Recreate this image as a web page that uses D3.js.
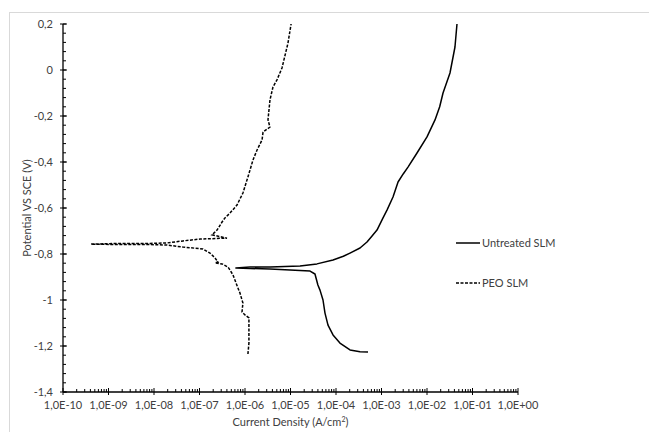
<!DOCTYPE html>
<html><head><meta charset="utf-8">
<script src="https://cdn.jsdelivr.net/npm/d3@7"></script>
<style>
body{margin:0;background:#fff;}
svg{display:block;font-family:Lato,"Open Sans",sans-serif;}
</style></head>
<body>
<svg id="c" width="649" height="432"></svg>
<script>
// Untreated SLM (solid): [current density A/cm2, potential V]
const untreatedI = [5.05e-4,3.37e-4,2.03e-4,1.22e-4,8.6e-5,6.67e-5,5.73e-5,5.18e-5,4.45e-5,4.0e-5,3.45e-5,2.69e-5,9.75e-6,3.54e-6,1.29e-6,6.3e-7,1.29e-6,3.54e-6,1.62e-5,3.82e-5,8.6e-5,1.45e-4,2.03e-4,3.37e-4,4.8e-4,6.2e-4,7.96e-4,1.08e-3,1.32e-3,1.79e-3,2.31e-3,3.0e-3,3.82e-3,6.03e-3,1.0e-2,1.5e-2,1.9e-2,2.25e-2,3.2e-2,4.12e-2,4.56e-2];
const untreatedE = [-1.226,-1.225,-1.217,-1.187,-1.152,-1.109,-1.057,-1.0,-0.957,-0.935,-0.887,-0.874,-0.870,-0.865,-0.863,-0.861,-0.857,-0.857,-0.852,-0.843,-0.826,-0.810,-0.796,-0.774,-0.748,-0.722,-0.696,-0.643,-0.609,-0.552,-0.487,-0.452,-0.422,-0.361,-0.291,-0.217,-0.160,-0.1,-0.013,0.1,0.2];
// PEO SLM (dashed)
const peoI = [1.16e-6,1.22e-6,1.22e-6,1.22e-6,1.0e-6,8.6e-7,9.0e-7,7.76e-7,7.0e-7,6.0e-7,5.44e-7,4.68e-7,4.23e-7,3.13e-7,2.19e-7,2.55e-7,2.19e-7,1.70e-7,1.19e-7,4.34e-8,1.93e-8,8.2e-9,1.79e-9,4.12e-10,1.79e-9,8.2e-9,1.93e-8,4.34e-8,1.03e-7,4.02e-7,1.88e-7,2.43e-7,3.13e-7,3.63e-7,4.68e-7,6.67e-7,9.0e-7,1.16e-6,1.5e-6,1.84e-6,2.37e-6,2.49e-6,3.54e-6,3.2e-6,3.54e-6,4.12e-6,5.04e-6,6.5e-6,8.8e-6,1.03e-5];
const peoE = [-1.235,-1.187,-1.117,-1.078,-1.065,-1.052,-1.013,-0.970,-0.948,-0.913,-0.891,-0.870,-0.857,-0.843,-0.839,-0.835,-0.817,-0.796,-0.778,-0.770,-0.761,-0.759,-0.759,-0.757,-0.754,-0.754,-0.752,-0.743,-0.735,-0.731,-0.717,-0.696,-0.661,-0.643,-0.622,-0.587,-0.535,-0.465,-0.391,-0.348,-0.304,-0.270,-0.248,-0.217,-0.130,-0.074,-0.043,0.009,0.117,0.2];
const xTickLabels = ["1,0E-10","1,0E-09","1,0E-08","1,0E-07","1,0E-06","1,0E-05","1,0E-04","1,0E-03","1,0E-02","1,0E-01","1,0E+00"];
const yTickValues = [0.2,0,-0.2,-0.4,-0.6,-0.8,-1,-1.2,-1.4];
const seriesNames = ["Untreated SLM","PEO SLM"];

const svg = d3.select("#c");
const L=63, R=518, T=24, B=392;
const x = d3.scaleLog().domain([1e-10,1]).range([L,R]);
const y = d3.scaleLinear().domain([-1.4,0.2]).range([B,T]);
const txt = "#404040";

// chart area border
svg.append("rect").attr("x",9.5).attr("y",12.5).attr("width",660).attr("height",440)
  .attr("fill","none").attr("stroke","#d9d9d9").attr("stroke-width",1);

// y axis
const gy = svg.append("g");
gy.append("line").attr("x1",L).attr("x2",L).attr("y1",T).attr("y2",B).attr("stroke","#000").attr("stroke-width",1.3);
const minorY = d3.range(0,41).map(i=>-1.4+i*0.04);
gy.selectAll("line.mn").data(minorY).join("line").attr("class","mn")
  .attr("x1",L).attr("x2",L+3).attr("y1",d=>y(d)).attr("y2",d=>y(d)).attr("stroke","#000").attr("stroke-width",1);
gy.selectAll("line.mj").data(yTickValues).join("line").attr("class","mj")
  .attr("x1",L-3).attr("x2",L+4).attr("y1",d=>y(d)).attr("y2",d=>y(d)).attr("stroke","#000").attr("stroke-width",1);
gy.selectAll("text").data(yTickValues).join("text")
  .attr("x",L-10).attr("y",d=>y(d)).attr("dy","0.35em").attr("text-anchor","end")
  .attr("font-size",11).attr("fill",txt)
  .text(d=>d3.format(".1~f")(d).replace(".",",").replace("−","-"));

// x axis
const gx = svg.append("g");
gx.append("line").attr("x1",L).attr("x2",R).attr("y1",B).attr("y2",B).attr("stroke","#000").attr("stroke-width",1.3);
const minorX = [];
for(let e=-10;e<0;e++){ for(let k=2;k<=9;k++) minorX.push(k*Math.pow(10,e)); }
gx.selectAll("line.mn").data(minorX).join("line").attr("class","mn")
  .attr("x1",d=>x(d)).attr("x2",d=>x(d)).attr("y1",B).attr("y2",B-3).attr("stroke","#000").attr("stroke-width",1);
const majorX = d3.range(-10,1).map(e=>Math.pow(10,e));
gx.selectAll("line.mj").data(majorX).join("line").attr("class","mj")
  .attr("x1",d=>x(d)).attr("x2",d=>x(d)).attr("y1",B+3).attr("y2",B-4).attr("stroke","#000").attr("stroke-width",1);
gx.selectAll("text").data(majorX).join("text")
  .attr("x",d=>x(d)).attr("y",409).attr("text-anchor","middle")
  .attr("font-size",11).attr("fill",txt).text((d,i)=>xTickLabels[i]);

// titles
const xt = svg.append("text").attr("x",(L+R)/2).attr("y",426).attr("text-anchor","middle")
  .attr("font-size",11).attr("fill",txt);
xt.append("tspan").text("Current Density (A/cm");
xt.append("tspan").attr("font-size",7).attr("dy",-4).text("2");
xt.append("tspan").attr("dy",4).text(")");
svg.append("text").attr("transform",`translate(31,${(T+B)/2}) rotate(-90)`).attr("text-anchor","middle")
  .attr("font-size",11).attr("fill",txt).text("Potential VS SCE (V)");

// series
const line = d3.line().x(d=>x(d[0])).y(d=>y(d[1]));
const untreated = untreatedI.map((v,i)=>[v,untreatedE[i]]);
const peo = peoI.map((v,i)=>[v,peoE[i]]);
svg.append("path").datum(untreated).attr("d",line).attr("fill","none").attr("stroke","#000").attr("stroke-width",1.5).attr("stroke-linejoin","round");
svg.append("path").datum(peo).attr("d",line).attr("fill","none").attr("stroke","#000").attr("stroke-width",1.5).attr("stroke-dasharray","3,1.5");

// legend
const leg = [{n:seriesNames[0],dash:null,y:243},{n:seriesNames[1],dash:"3,1.5",y:283}];
leg.forEach(l=>{
  svg.append("line").attr("x1",456).attr("x2",480).attr("y1",l.y).attr("y2",l.y)
    .attr("stroke","#000").attr("stroke-width",1.5).attr("stroke-dasharray",l.dash);
  svg.append("text").attr("x",482).attr("y",l.y).attr("dy","0.35em").attr("font-size",11).attr("fill",txt).text(l.n);
});
</script>
</body></html>
